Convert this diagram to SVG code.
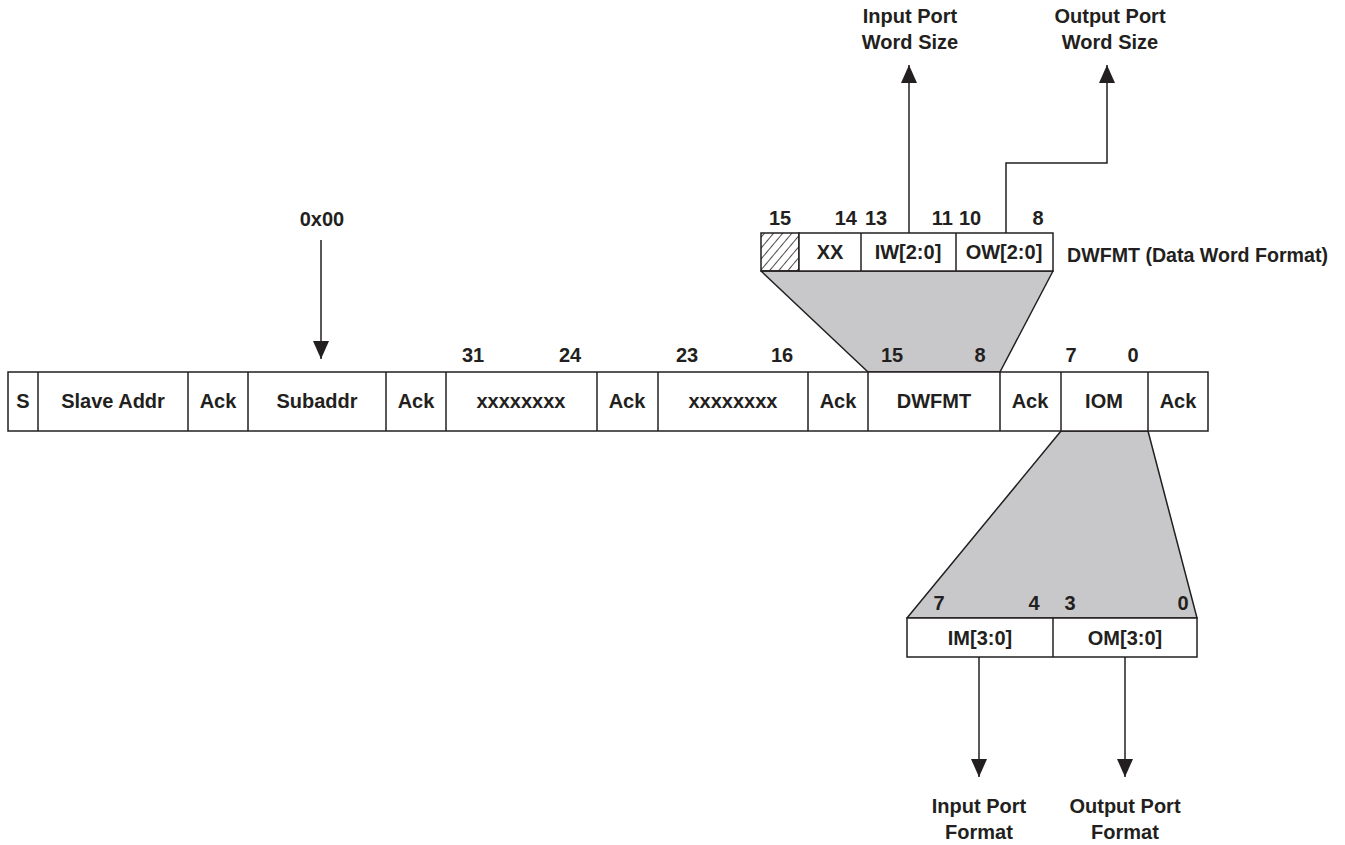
<svg xmlns="http://www.w3.org/2000/svg" width="1345" height="845" viewBox="0 0 1345 845">
<style>
text{font-family:"Liberation Sans",Arial,sans-serif;font-weight:bold;font-size:20px;fill:#231f20}
.c{text-anchor:middle}
.e{text-anchor:end}
.box{fill:#fff;stroke:#231f20;stroke-width:1.5}
.fan{fill:#c8c8ca;stroke:#231f20;stroke-width:1.5;stroke-linejoin:round}
.ln{fill:none;stroke:#231f20;stroke-width:1.5}
</style>
<defs>
<marker id="ah" viewBox="0 0 18 16" refX="18" refY="8" markerWidth="18" markerHeight="16" markerUnits="userSpaceOnUse" orient="auto">
<path d="M0,0 L18,8 L0,16 Z" fill="#231f20"/>
</marker>
<pattern id="hatch" patternUnits="userSpaceOnUse" width="7" height="7" patternTransform="rotate(40)">
<line x1="0" y1="0" x2="0" y2="7" stroke="#231f20" stroke-width="1.6"/>
</pattern>
</defs>

<g id="fans">
<polygon class="fan" points="761,271 1053,271 1000,372 868,372"/>
<polygon class="fan" points="1061,431 1148,431 1197,618 907,618"/>
</g>

<g id="main-row">
<rect class="box" x="8" y="372" width="1200" height="59"/>
<g class="ln">
<line x1="38" y1="372" x2="38" y2="431"/>
<line x1="188" y1="372" x2="188" y2="431"/>
<line x1="248" y1="372" x2="248" y2="431"/>
<line x1="386" y1="372" x2="386" y2="431"/>
<line x1="446" y1="372" x2="446" y2="431"/>
<line x1="597" y1="372" x2="597" y2="431"/>
<line x1="658" y1="372" x2="658" y2="431"/>
<line x1="808" y1="372" x2="808" y2="431"/>
<line x1="868" y1="372" x2="868" y2="431"/>
<line x1="1000" y1="372" x2="1000" y2="431"/>
<line x1="1061" y1="372" x2="1061" y2="431"/>
<line x1="1148" y1="372" x2="1148" y2="431"/>
</g>
<text class="c" x="23" y="408">S</text>
<text class="c" x="113" y="408">Slave Addr</text>
<text class="c" x="218" y="408">Ack</text>
<text class="c" x="317" y="408">Subaddr</text>
<text class="c" x="416" y="408">Ack</text>
<text class="c" x="521" y="408">xxxxxxxx</text>
<text class="c" x="627" y="408">Ack</text>
<text class="c" x="733" y="408">xxxxxxxx</text>
<text class="c" x="838" y="408">Ack</text>
<text class="c" x="934" y="408">DWFMT</text>
<text class="c" x="1030" y="408">Ack</text>
<text class="c" x="1104" y="408">IOM</text>
<text class="c" x="1178" y="408">Ack</text>
</g>

<g id="main-bits">
<text class="c" x="473" y="362">31</text>
<text class="c" x="570" y="362">24</text>
<text class="c" x="687" y="362">23</text>
<text class="c" x="782" y="362">16</text>
<text class="c" x="892" y="362">15</text>
<text class="c" x="980" y="362">8</text>
<text class="c" x="1071" y="362">7</text>
<text class="c" x="1133" y="362">0</text>
</g>

<g id="dwfmt-register">
<rect x="761" y="233" width="38" height="38" fill="url(#hatch)" stroke="#231f20" stroke-width="1.5"/>
<rect class="box" x="799" y="233" width="254" height="38"/>
<line class="ln" x1="861" y1="233" x2="861" y2="271"/>
<line class="ln" x1="956" y1="233" x2="956" y2="271"/>
<text class="c" x="830" y="259">XX</text>
<text class="c" x="908" y="259">IW[2:0]</text>
<text class="c" x="1004" y="259">OW[2:0]</text>
<text class="c" x="780" y="225">15</text>
<text class="e" x="857" y="225">14</text>
<text x="865" y="225">13</text>
<text class="e" x="953" y="225">11</text>
<text x="959" y="225">10</text>
<text class="c" x="1038" y="225">8</text>
<text x="1067" y="262" textLength="261" lengthAdjust="spacingAndGlyphs">DWFMT (Data Word Format)</text>
</g>

<g id="iom-register">
<rect class="box" x="907" y="618" width="290" height="39"/>
<line class="ln" x1="1053" y1="618" x2="1053" y2="657"/>
<text class="c" x="980" y="645">IM[3:0]</text>
<text class="c" x="1125" y="645">OM[3:0]</text>
<text class="c" x="939" y="610">7</text>
<text class="c" x="1034" y="610">4</text>
<text class="c" x="1070" y="610">3</text>
<text class="c" x="1183" y="610">0</text>
</g>

<g id="labels">
<text class="c" x="322" y="226">0x00</text>
<text class="c" x="910" y="23">Input Port</text>
<text class="c" x="910" y="49">Word Size</text>
<text class="c" x="1110" y="23">Output Port</text>
<text class="c" x="1110" y="49">Word Size</text>
<text class="c" x="979" y="813">Input Port</text>
<text class="c" x="979" y="839">Format</text>
<text class="c" x="1125" y="813">Output Port</text>
<text class="c" x="1125" y="839">Format</text>
</g>

<g id="connectors" class="ln">
<line x1="321" y1="240" x2="321" y2="359" marker-end="url(#ah)"/>
<line x1="909" y1="233" x2="909" y2="65" marker-end="url(#ah)"/>
<polyline points="1006,233 1006,163 1107,163 1107,65" marker-end="url(#ah)"/>
<line x1="979" y1="657" x2="979" y2="777" marker-end="url(#ah)"/>
<line x1="1125" y1="657" x2="1125" y2="777" marker-end="url(#ah)"/>
</g>
</svg>
